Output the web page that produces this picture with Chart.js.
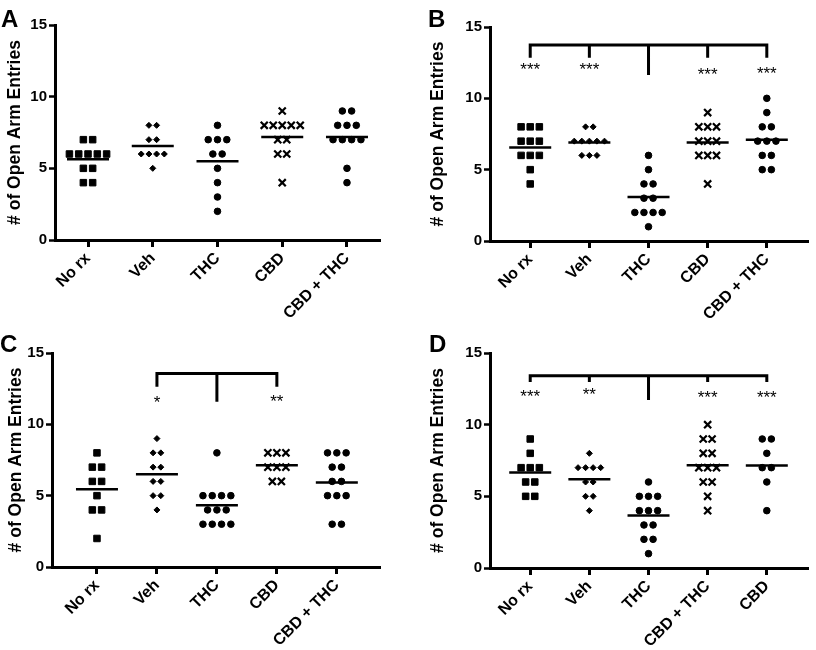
<!DOCTYPE html>
<html><head><meta charset="utf-8">
<script src="https://cdn.jsdelivr.net/npm/chart.js@4"></script>
<style>
html,body{margin:0;padding:0;background:#fff;}
#wrap{position:relative;width:816px;height:650px;overflow:hidden;}
.panel{position:absolute;width:408px;height:325px;}
.letter{position:absolute;font:bold 24px "Liberation Sans",Arial,sans-serif;color:#000;line-height:1;}
</style></head><body>
<div id="wrap">
  <div class="panel" style="left:0;top:0"><canvas id="cA" width="408" height="325"></canvas></div>
  <div class="panel" style="left:408px;top:0"><canvas id="cB" width="408" height="325"></canvas></div>
  <div class="panel" style="left:0;top:325px"><canvas id="cC" width="408" height="325"></canvas></div>
  <div class="panel" style="left:408px;top:325px"><canvas id="cD" width="408" height="325"></canvas></div>
  <div class="letter" style="left:1px;top:7px">A</div>
  <div class="letter" style="left:428px;top:7px">B</div>
  <div class="letter" style="left:0px;top:332px">C</div>
  <div class="letter" style="left:429px;top:332px">D</div>
</div>
<script>
// ---------------- data ----------------
const catsABC = ['No rx', 'Veh', 'THC', 'CBD', 'CBD + THC'];
const catsD = ['No rx', 'Veh', 'THC', 'CBD + THC', 'CBD'];
const yTicks = [0, 5, 10, 15];
const yTitle = '# of Open Arm Entries';

// Panel A
const aNoRx   = [7, 7, 6, 6, 6, 6, 6, 5, 5, 4, 4];
const aVeh    = [8, 8, 7, 7, 6, 6, 6, 6, 5];
const aTHC    = [8, 7, 7, 7, 6, 6, 5, 4, 3, 2];
const aCBD    = [9, 8, 8, 8, 8, 8, 7, 7, 6, 6, 4];
const aCBDTHC = [9, 9, 8, 8, 8, 7, 7, 7, 7, 5, 4];

// Panel B
const bNoRx   = [8, 8, 8, 7, 7, 7, 6, 6, 6, 5, 4];
const bVeh    = [8, 8, 7, 7, 7, 7, 7, 6, 6, 6];
const bTHC    = [6, 5, 4, 4, 3, 3, 2, 2, 2, 2, 1];
const bCBD    = [9, 8, 8, 8, 7, 7, 7, 6, 6, 6, 4];
const bCBDTHC = [10, 9, 8, 8, 7, 7, 7, 6, 6, 5, 5];

// Panel C
const cNoRx   = [8, 7, 7, 6, 6, 5, 4, 4, 2];
const cVeh    = [9, 8, 8, 7, 7, 6, 6, 5, 5, 4];
const cTHC    = [8, 5, 5, 5, 5, 4, 4, 4, 3, 3, 3, 3];
const cCBD    = [8, 8, 8, 7, 7, 7, 6, 6];
const cCBDTHC = [8, 8, 8, 7, 7, 6, 6, 5, 5, 5, 3, 3];

// Panel D (order: No rx, Veh, THC, CBD + THC, CBD)
const dNoRx   = [9, 8, 7, 7, 7, 6, 6, 5, 5];
const dVeh    = [8, 7, 7, 7, 7, 6, 6, 5, 5, 4];
const dTHC    = [6, 5, 5, 5, 4, 4, 4, 3, 3, 2, 2, 1];
const dCBDTHC = [10, 9, 9, 8, 8, 7, 7, 7, 6, 6, 5, 4];
const dCBD    = [9, 9, 8, 7, 7, 6, 4];

// Significance brackets: compared groups, reference group, levels (bar, arm end, centre end), stars and their levels
const bCompared = [0, 1, 3, 4];
const bReference = 2;
const bLevels = [13.74, 12.85, 11.63];
const bStars = ['***', '***', '***', '***'];
const bStarLevels = [12.3, 12.3, 11.95, 12.08];

const cCompared = [1, 3];
const cReference = 2;
const cLevels = [13.57, 12.64, 11.58];
const cStars = ['*', '**'];
const cStarLevels = [11.84, 11.93];

const dCompared = [0, 1, 3, 4];
const dReference = 2;
const dLevels = [13.42, 12.98, 11.72];
const dStars = ['***', '**', '***', '***'];
const dStarLevels = [12.3, 12.4, 12.2, 12.2];

// ---------------- styling / layout ----------------
const FONT = '"Liberation Sans", Arial, Helvetica, sans-serif';
const markerStyles = ['rect', 'rectRot', 'circle', 'crossRot', 'circle'];
const radius = {rect: 4.6, rectRot: 3, circle: 3.3, crossRot: 5};
const borderW = {rect: 1, rectRot: 1, circle: 1, crossRot: 2.2};
const jitterPx = {rect: 9.3, rectRot: 7.7, circle: 9.3, crossRot: 9};
const W = 408, H = 325;

function makePanel(id, cats, groups, L, br) {
  const pxPerUnit = (L.right - L.left) / (L.xmax - L.xmin);
  const datasets = groups.map((vals, i) => {
    const st = markerStyles[i];
    const step = jitterPx[st] / pxPerUnit;
    const counts = {};
    vals.forEach(v => { counts[v] = (counts[v] || 0) + 1; });
    const seen = {};
    const pts = vals.map(v => {
      const k = seen[v] || 0; seen[v] = k + 1;
      return {x: i + (k - (counts[v] - 1) / 2) * step, y: v};
    });
    return {
      data: pts, pointStyle: st, pointRadius: radius[st], pointHoverRadius: radius[st],
      pointBorderWidth: borderW[st], pointHoverBorderWidth: borderW[st],
      backgroundColor: '#000', borderColor: '#000', showLine: false
    };
  });

  const annot = {
    id: 'annot_' + id,
    afterDatasetsDraw(chart) {
      const ctx = chart.ctx, xs = chart.scales.x, ys = chart.scales.y;
      ctx.save();
      ctx.strokeStyle = '#000';
      ctx.lineCap = 'butt';
      // mean lines
      ctx.lineWidth = 2.5;
      groups.forEach((vals, i) => {
        const m = vals.reduce((a, b) => a + b, 0) / vals.length;
        const cx = xs.getPixelForValue(i), cy = ys.getPixelForValue(m);
        ctx.beginPath(); ctx.moveTo(cx - 21, cy); ctx.lineTo(cx + 21, cy); ctx.stroke();
      });
      // bracket
      if (br) {
        ctx.lineWidth = 3;
        const yBar = ys.getPixelForValue(br.levels[0]);
        const yArm = ys.getPixelForValue(br.levels[1]);
        const yCen = ys.getPixelForValue(br.levels[2]);
        const x0 = xs.getPixelForValue(br.compared[0]);
        const x1 = xs.getPixelForValue(br.compared[br.compared.length - 1]);
        ctx.beginPath();
        ctx.moveTo(x0, yArm); ctx.lineTo(x0, yBar); ctx.lineTo(x1, yBar); ctx.lineTo(x1, yArm);
        br.compared.slice(1, -1).forEach(c => {
          const xc = xs.getPixelForValue(c);
          ctx.moveTo(xc, yBar); ctx.lineTo(xc, yArm);
        });
        const xr = xs.getPixelForValue(br.reference);
        ctx.moveTo(xr, yBar); ctx.lineTo(xr, yCen);
        ctx.stroke();
        ctx.fillStyle = '#000';
        ctx.font = '17px ' + FONT;
        ctx.textAlign = 'center';
        ctx.textBaseline = 'alphabetic';
        br.compared.forEach((c, k) => {
          ctx.fillText(br.stars[k], xs.getPixelForValue(c), ys.getPixelForValue(br.starLevels[k]) + 9.9);
        });
      }
      ctx.restore();
    }
  };

  return new Chart(document.getElementById(id), {
    type: 'scatter',
    data: {datasets},
    options: {
      responsive: false, animation: false,
      events: [],
      layout: {padding: {top: L.top, right: W - L.right, left: 0, bottom: 0}},
      plugins: {legend: {display: false}, tooltip: {enabled: false}},
      scales: {
        x: {
          type: 'linear', min: L.xmin, max: L.xmax,
          afterBuildTicks: s => { s.ticks = cats.map((c, i) => ({value: i})); },
          afterFit: s => { s.height = H - L.bottom; },
          ticks: {
            callback: v => cats[v], autoSkip: false, maxRotation: 45, minRotation: 45,
            color: '#000', font: {family: FONT, size: 16, weight: 'bold'}, padding: 2
          },
          grid: {display: true, drawOnChartArea: false, drawTicks: true, tickLength: 7, tickWidth: 3, tickColor: '#000'},
          border: {display: true, color: '#000', width: 3}
        },
        y: {
          min: 0, max: 15,
          afterBuildTicks: s => { s.ticks = yTicks.map(v => ({value: v})); },
          afterFit: s => { s.width = L.left; },
          ticks: {color: '#000', font: {family: FONT, size: 15, weight: 'bold'}, padding: 2},
          grid: {display: true, drawOnChartArea: false, drawTicks: true, tickLength: 6, tickWidth: 2.5, tickColor: '#000'},
          border: {display: true, color: '#000', width: 3},
          title: {
            display: true, text: yTitle, color: '#000',
            font: {family: FONT, size: 17.5, weight: 'bold'}, padding: {top: L.titlePad, bottom: 0}
          }
        }
      }
    },
    plugins: [annot]
  });
}

makePanel('cA', catsABC, [aNoRx, aVeh, aTHC, aCBD, aCBDTHC],
  {left: 55, right: 380, top: 25, bottom: 240, xmin: -0.51, xmax: 4.51, titlePad: 5}, null);
makePanel('cB', catsABC, [bNoRx, bVeh, bTHC, bCBD, bCBDTHC],
  {left: 82, right: 407, top: 27, bottom: 241, xmin: -0.68, xmax: 4.71, titlePad: 20},
  {compared: bCompared, reference: bReference, levels: bLevels, stars: bStars, starLevels: bStarLevels});
makePanel('cC', catsABC, [cNoRx, cVeh, cTHC, cCBD, cCBDTHC],
  {left: 52, right: 380, top: 28, bottom: 242, xmin: -0.75, xmax: 4.72, titlePad: 6},
  {compared: cCompared, reference: cReference, levels: cLevels, stars: cStars, starLevels: cStarLevels});
makePanel('cD', catsD, [dNoRx, dVeh, dTHC, dCBDTHC, dCBD],
  {left: 82, right: 407, top: 28, bottom: 243, xmin: -0.68, xmax: 4.71, titlePad: 20},
  {compared: dCompared, reference: dReference, levels: dLevels, stars: dStars, starLevels: dStarLevels});
</script>
</body></html>
